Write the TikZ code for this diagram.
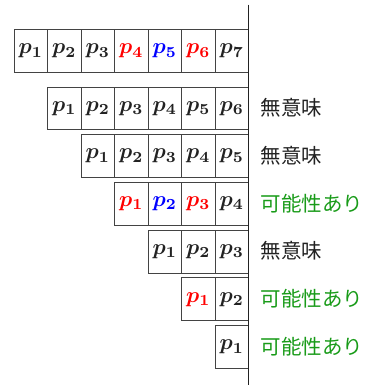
\documentclass[tikz,border=0pt]{standalone}
\usepackage{graphicx}
\usepackage{amsmath}
\usepackage{fontspec}
\newfontfamily\cjk{Noto Sans CJK JP}
\definecolor{okgreen}{RGB}{25,155,25}
\definecolor{ink}{RGB}{34,34,34}
\begin{document}
\begin{tikzpicture}[x=1pt,y=1pt,
  cell/.style={draw=ink!85,line width=0.8pt,minimum width=33.5pt,minimum height=42.8pt,inner sep=0pt,anchor=north west,text=ink},
  lbl/.style={anchor=west,inner sep=0pt,font=\cjk\fontsize{20.5}{24}\selectfont,text=ink}]
\useasboundingbox (0,0) rectangle (374,385);
\newcommand\pc[1]{\raisebox{0pt}{\scalebox{2.2}{\boldmath$p_{#1}$}}}
% row 0
\foreach \k/\c in {1/ink,2/ink,3/ink,4/red,5/blue,6/red,7/ink}{
  \node[cell,text=\c] (r0c\k) at ({13.7+(\k-1)*33.5},{385-29.3}) {\pc{\k}};
}
% rows 1..6
\foreach \i in {1,...,6}{
  \pgfmathtruncatemacro\n{7-\i}
  \foreach \k in {1,...,\n}{
    \node[cell] (r\i c\k) at ({13.7+(\i+\k-1)*33.5},{385-86.7-(\i-1)*47.7}) {\pc{\k}};
  }
}
% colored overrides
\node[cell,text=red,fill=white] at ({13.7+3*33.5},{385-86.7-2*47.7}) {\pc{1}};
\node[cell,text=blue,fill=white] at ({13.7+4*33.5},{385-86.7-2*47.7}) {\pc{2}};
\node[cell,text=red,fill=white] at ({13.7+5*33.5},{385-86.7-2*47.7}) {\pc{3}};
\node[cell,text=red,fill=white] at ({13.7+5*33.5},{385-86.7-4*47.7}) {\pc{1}};
% labels
\node[lbl] (l1) at (260.5,{385-86.7-21.4}) {無意味};
\node[lbl] (l2) at (260.5,{385-86.7-47.7-21.4}) {無意味};
\node[lbl,text=okgreen] (l3) at (260.5,{385-86.7-2*47.7-21.4}) {可能性あり};
\node[lbl] (l4) at (260.5,{385-86.7-3*47.7-21.4}) {無意味};
\node[lbl,text=okgreen] (l5) at (260.5,{385-86.7-4*47.7-21.4}) {可能性あり};
\node[lbl,text=okgreen] (l6) at (260.5,{385-86.7-5*47.7-21.4}) {可能性あり};
% vertical line
\coordinate (vt) at (248.3,{385-4.7});
\coordinate (vb) at (248.3,0);
\draw[ink,line width=0.9pt] (vt) -- (vb);
\end{tikzpicture}
\end{document}
